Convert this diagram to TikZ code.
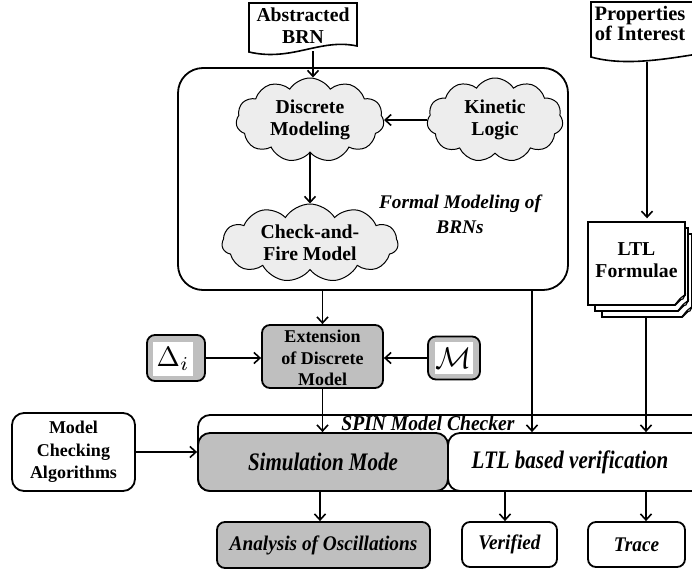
\documentclass[tikz,border=0pt]{standalone}
\usepackage{fontspec}
\setmainfont{Liberation Serif}
\usetikzlibrary{shapes.symbols,arrows.meta}
\definecolor{boxgray}{HTML}{BFBFBF}
\definecolor{cloudgray}{HTML}{EDEDED}
\newcommand{\tallish}[1]{\scalebox{1}[1.08]{#1}}
\begin{document}
\begin{tikzpicture}[x=1pt,y=-1pt,
  txt/.style={font=\fontsize{18}{22.5}\selectfont\bfseries, align=center},
  toptxt/.style={font=\fontsize{19.7}{22}\selectfont\bfseries, align=center},
  itxt/.style={font=\fontsize{19.3}{22}\selectfont\bfseries\itshape, align=center},
  bigitxt/.style={font=\fontsize{21}{24}\selectfont\bfseries\itshape, align=center},
  puff/.style={shape=cloud, cloud puffs=11, cloud puff arc=115, cloud ignores aspect,
    draw, line width=1pt, fill=cloudgray, inner sep=0pt, toptxt},
  rbox/.style={draw, line width=1.8pt, rounded corners=10pt, inner sep=0pt},
  arr/.style={line width=1.6pt, -{Straight Barb[length=6pt,width=11pt]}},
  sheetline/.style={line width=1.8pt, fill=white}
]
\useasboundingbox (0,0) rectangle (692,570);
\clip (0,0) rectangle (692,570);

% input documents with wavy lower edge
\draw[line width=1.6pt, fill=white] (249,3) -- (357,3) -- (357,46)
  .. controls (320,38) and (292,62) .. (249,52) -- cycle;
\node[toptxt] (absbrn) at (303,26) {Abstracted\\BRN};
\coordinate (absbot) at (313,51);

\draw[line width=1.6pt, fill=white] (591,2) -- (712,2) -- (712,52)
  .. controls (680,56) and (630,68) .. (591,57) -- cycle;
\node[toptxt, font=\fontsize{20.5}{20.5}\selectfont\bfseries] (props) at (640,23.5) {Properties\\of Interest};
\coordinate (propsbot) at (647,62);

% formal modeling container
\node[rbox, rounded corners=25pt, minimum width=390pt, minimum height=222pt] (fm) at (373,179) {};
\node[itxt, font=\fontsize{19.3}{25}\selectfont\bfseries\itshape] (fmlbl) at (460,214) {Formal Modeling of\\BRNs};

\node[puff, minimum width=148pt, minimum height=84pt] (disc) at (310,120) {Discrete\\Modeling};
\node[puff, minimum width=136pt, minimum height=84pt] (kin) at (495,120) {Kinetic\\Logic};
\node[puff, minimum width=176pt, minimum height=78pt] (caf) at (310,243) {Check-and-\\Fire Model};

\draw[arr] (absbot) -- (absbot |- disc.north);
\draw[arr] (kin.west) -- (disc.east |- kin.west);
\draw[arr] (disc.south) -- (caf.north);

% stacked LTL formula sheets with folded corners
\foreach \xa/\ya/\xb/\yb in {602/234/692/317, 595/228/688/311, 588/222/685/305}{
  \draw[sheetline] (\xa,\ya) -- (\xb,\ya) -- (\xb,\yb-10) -- (\xb-10,\yb) -- (\xa,\yb) -- cycle;
  \draw[line width=1pt, fill=boxgray] (\xb,\yb-10) .. controls (\xb-5,\yb-7) .. (\xb-10,\yb)
    .. controls (\xb-6,\yb-5) .. (\xb-2,\yb-6) -- cycle;
}
\node[toptxt, minimum width=97pt, minimum height=83pt] (ltlf) at (636.5,260) {LTL\\Formulae};
\coordinate (ltlfbot) at (646,317);
\draw[arr] (propsbot) -- (propsbot |- ltlf.north);

% model extension
\node[rbox, fill=boxgray, minimum width=121pt, minimum height=63pt, rounded corners=8pt] (ext) at (322.5,356.5) {};
\node[txt, font=\fontsize{18}{21.5}\selectfont\bfseries] (exttxt) at (322.5,358) {Extension\\of Discrete\\Model};
\node[rbox, fill=boxgray, minimum width=58pt, minimum height=46pt, rounded corners=8pt] (delta) at (176,358) {};
\node[fill=white, minimum width=40pt, minimum height=34pt, inner sep=0pt] (deltatxt) at (173,359)
  {\scalebox{2.8}{$\Delta_i$}};
\node[rbox, fill=boxgray, minimum width=52pt, minimum height=43pt, rounded corners=8pt] (mbox) at (454,358) {};
\node[fill=white, minimum width=38pt, minimum height=32pt, inner sep=0pt] (mtxt) at (454,358)
  {\scalebox{3}{$\mathcal{M}$}};

\draw[arr] (ext |- fm.south) -- (ext.north);
\draw[arr] (delta.east) -- (delta -| ext.west);
\draw[arr] (mbox.west) -- (mbox -| ext.east);

% SPIN model checker
\draw[line width=1.8pt, rounded corners=12pt, fill=white] (198,415) rectangle (712,491);
\node[itxt, font=\fontsize{19.6}{22}\selectfont\bfseries\itshape] (spin) at (428,423.5) {\tallish{SPIN Model Checker}};
\node[rbox, fill=boxgray, rounded corners=12pt, minimum width=250pt, minimum height=58pt] (sim) at (323,462) {};
\node[bigitxt] (simtxt) at (sim) {\scalebox{1}[1.2]{Simulation Mode}};
\node[rbox, fill=white, rounded corners=12pt, minimum width=264pt, minimum height=58pt] (ltl) at (580,462) {};
\node[bigitxt] (ltltxt) at (570,462) {\scalebox{1}[1.2]{LTL based verification}};

\node[rbox, fill=white, rounded corners=12pt, minimum width=123pt, minimum height=78pt,
  txt] (mca) at (73.5,452) {Model\\Checking\\Algorithms};

\coordinate (fmout) at (532,290);
\draw[arr] (ext.south) -- (ext |- sim.north);
\draw[arr] (fmout) -- (fmout |- ltl.north);
\draw[arr] (ltlfbot) -- (ltlfbot |- ltl.north);
\draw[arr] (mca.east) -- (mca -| sim.west);

% results
\node[rbox, fill=boxgray, rounded corners=8pt, minimum width=213pt, minimum height=46pt, itxt]
  (ana) at (323.5,545) {\tallish{Analysis of Oscillations}};
\node[rbox, fill=white, rounded corners=8pt, minimum width=95pt, minimum height=45pt, itxt]
  (ver) at (509.5,544.5) {\tallish{Verified}};
\node[rbox, fill=white, rounded corners=8pt, minimum width=97pt, minimum height=45pt, itxt]
  (trace) at (636.5,544.5) {\tallish{Trace}};

\coordinate (simout) at (320,491);
\coordinate (verout) at (505,491);
\coordinate (trout) at (646,491);
\draw[arr] (simout) -- (simout |- ana.north);
\draw[arr] (verout) -- (verout |- ver.north);
\draw[arr] (trout) -- (trout |- trace.north);
\end{tikzpicture}
\end{document}
